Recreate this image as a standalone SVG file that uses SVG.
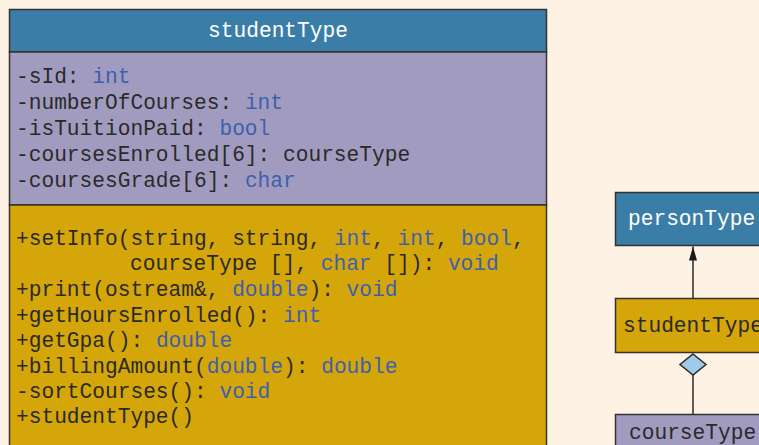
<svg xmlns="http://www.w3.org/2000/svg" width="759" height="445" viewBox="0 0 759 445">
<style>
.t{font-family:"Liberation Mono","Courier New",monospace;font-size:21.2px;fill:#2a2a2a}
.k{fill:#3f5fae}
.w{fill:#ffffff}
.box{stroke:#333333;stroke-width:1.5}
.hdr{fill:#3a7ea7}
.att{fill:#a19cbf}
.met{fill:#d4a609}
.conn{stroke:#2a2a2a;stroke-width:1.5;fill:none}
</style>
<defs>
<marker id="tri" markerWidth="15" markerHeight="10" refX="14" refY="5" orient="auto" markerUnits="userSpaceOnUse" viewBox="0 0 15 10">
<path d="M0,1 L14,5 L0,9 Z" fill="#1a1a1a"/>
</marker>
</defs>
<rect width="759" height="445" fill="#fef2e4"/>
<g id="studentType-class">
<rect class="box hdr" x="9.5" y="9.5" width="537" height="42.5"/>
<rect class="box att" x="9.5" y="52" width="537" height="153"/>
<rect class="box met" x="9.5" y="205" width="537" height="250"/>
<text class="t w" x="278" y="37" text-anchor="middle">studentType</text>
<text class="t" x="16" y="83">-sId: <tspan class="k">int</tspan></text>
<text class="t" x="16" y="109">-numberOfCourses: <tspan class="k">int</tspan></text>
<text class="t" x="16" y="135">-isTuitionPaid: <tspan class="k">bool</tspan></text>
<text class="t" x="16" y="161">-coursesEnrolled[6]: courseType</text>
<text class="t" x="16" y="187">-coursesGrade[6]: <tspan class="k">char</tspan></text>
<text class="t" x="16" y="245">+setInfo(string, string, <tspan class="k">int</tspan>, <tspan class="k">int</tspan>, <tspan class="k">bool</tspan>,</text>
<text class="t" x="130" y="270">courseType [], <tspan class="k">char</tspan> []): <tspan class="k">void</tspan></text>
<text class="t" x="16" y="296">+print(ostream&amp;, <tspan class="k">double</tspan>): <tspan class="k">void</tspan></text>
<text class="t" x="16" y="322">+getHoursEnrolled(): <tspan class="k">int</tspan></text>
<text class="t" x="16" y="347">+getGpa(): <tspan class="k">double</tspan></text>
<text class="t" x="16" y="373">+billingAmount(<tspan class="k">double</tspan>): <tspan class="k">double</tspan></text>
<text class="t" x="16" y="398">-sortCourses(): <tspan class="k">void</tspan></text>
<text class="t" x="16" y="423">+studentType()</text>
</g>
<g id="personType">
<rect class="box hdr" x="615.5" y="192.5" width="160" height="53"/>
<text class="t w" x="628" y="225">personType</text>
</g>
<g id="studentType">
<rect class="box met" x="615.5" y="298.5" width="160" height="54"/>
<text class="t" x="623" y="332">studentType</text>
</g>
<g id="courseType">
<rect class="box att" x="615.5" y="414.5" width="160" height="40"/>
<text class="t" x="629" y="439">courseType</text>
</g>
<g id="connectors">
<line class="conn" x1="693" y1="298" x2="693" y2="246.5" marker-end="url(#tri)"/>
<line class="conn" x1="693" y1="414" x2="693" y2="375"/>
<path d="M693,354 L706,364.5 L693,375 L680,364.5 Z" fill="#9ecbe9" stroke="#2a2a2a" stroke-width="1.5"/>
</g>
</svg>
